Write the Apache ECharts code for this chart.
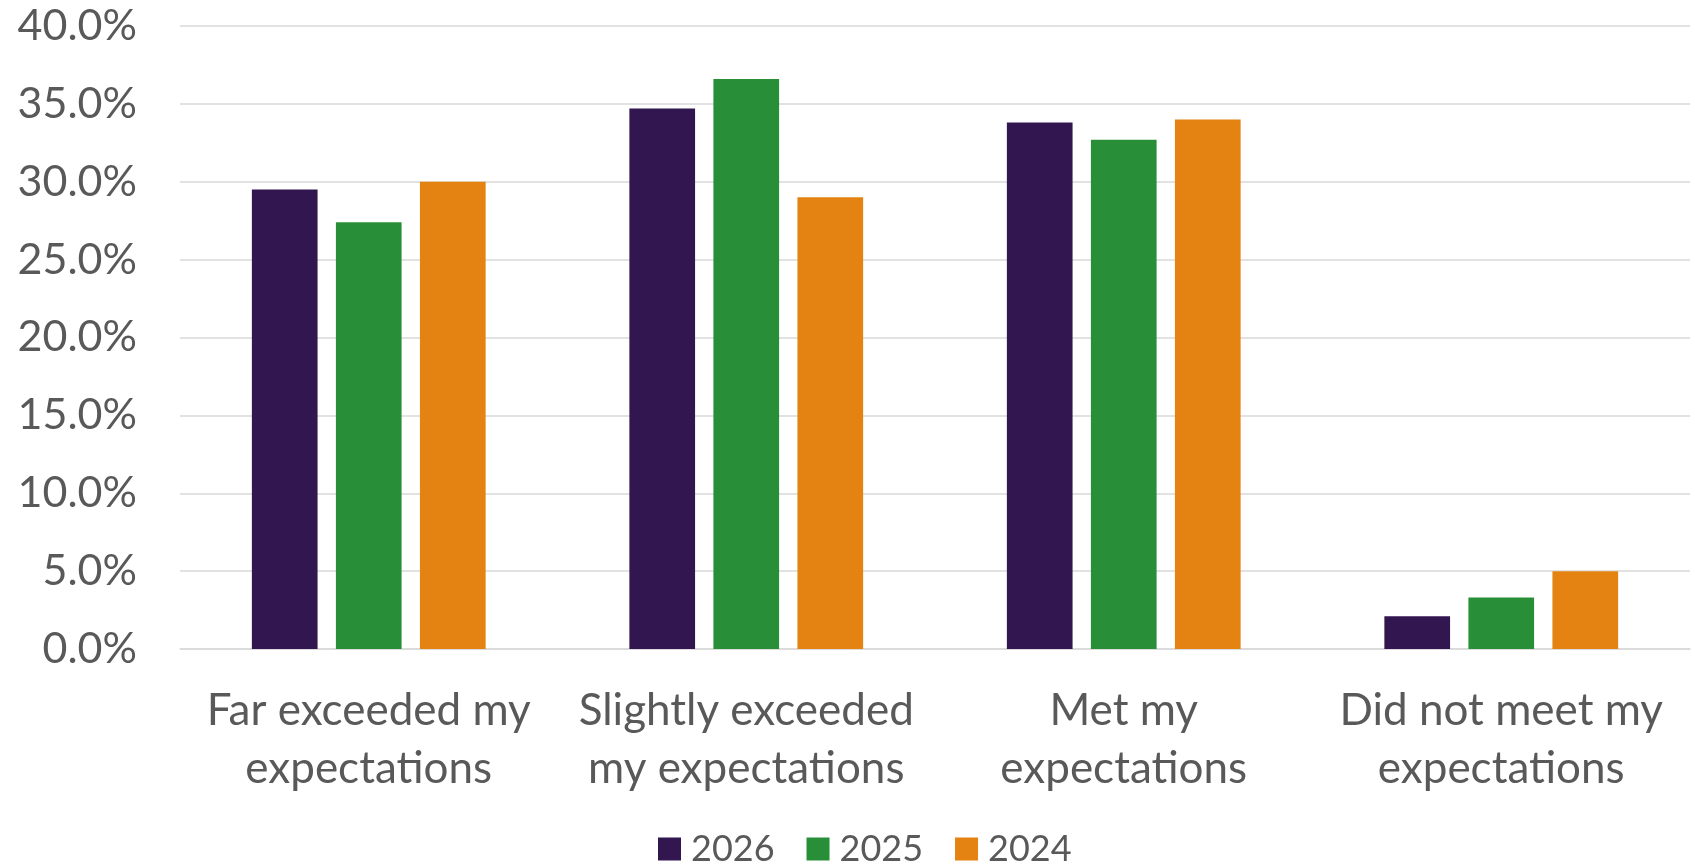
<!DOCTYPE html>
<html>
<head>
<meta charset="utf-8">
<script src="https://cdn.jsdelivr.net/npm/echarts@6/dist/echarts.min.js"></script>
<style>
  html, body { margin: 0; padding: 0; background: #fff; }
  #chart { width: 1695px; height: 864px; }
</style>
</head>
<body>
<div id="chart"></div>
<script>
  const categories = [
    "Far exceeded my\nexpectations",
    "Slightly exceeded\nmy expectations",
    "Met my\nexpectations",
    "Did not meet my\nexpectations",
  ]
  const years = ["2026", "2025", "2024"]
  const values2026 = [29.5, 34.7, 33.8, 2.1]
  const values2025 = [27.4, 36.6, 32.7, 3.3]
  const values2024 = [30.0, 29.0, 34.0, 5.0]
  const yTicks = { min: 0, max: 40, interval: 5 }

  const colors = ["#31164f", "#288f38", "#e58312"]
  const font = "Lato"
  const textColor = "#595959"

  const seriesData = [values2026, values2025, values2024]

  const myChart = echarts.init(document.getElementById("chart"))
  const option = {
    animation: false,
    textStyle: { fontFamily: font },
    grid: { left: 180, right: 5, top: 26, bottom: 215 },
    legend: {
      data: years,
      left: 653,
      top: 826,
      icon: "rect",
      itemWidth: 23,
      itemHeight: 23,
      itemGap: 32,
      textStyle: {
        fontFamily: font,
        fontSize: 36,
        color: textColor,
        padding: [0, 0, 0, 5],
      },
    },
    xAxis: {
      type: "category",
      data: categories,
      axisLine: { lineStyle: { color: "#d9d9d9", width: 1.5 } },
      axisTick: { show: false },
      axisLabel: {
        fontFamily: font,
        fontSize: 44,
        lineHeight: 58,
        color: textColor,
        margin: 33,
        interval: 0,
      },
    },
    yAxis: {
      type: "value",
      min: yTicks.min,
      max: yTicks.max,
      interval: yTicks.interval,
      axisLine: { show: false },
      axisTick: { show: false },
      splitLine: { lineStyle: { color: "#d9d9d9", width: 1.5 } },
      axisLabel: {
        fontFamily: font,
        fontSize: 43,
        color: textColor,
        margin: 43,
        formatter: (v) => v.toFixed(1) + "%",
      },
    },
    series: years.map((name, i) => ({
      name: name,
      type: "bar",
      data: seriesData[i],
      barWidth: 65.7,
      barGap: "27.9%",
      itemStyle: { color: colors[i] },
    })),
  }
  myChart.setOption(option)
</script>
</body>
</html>
